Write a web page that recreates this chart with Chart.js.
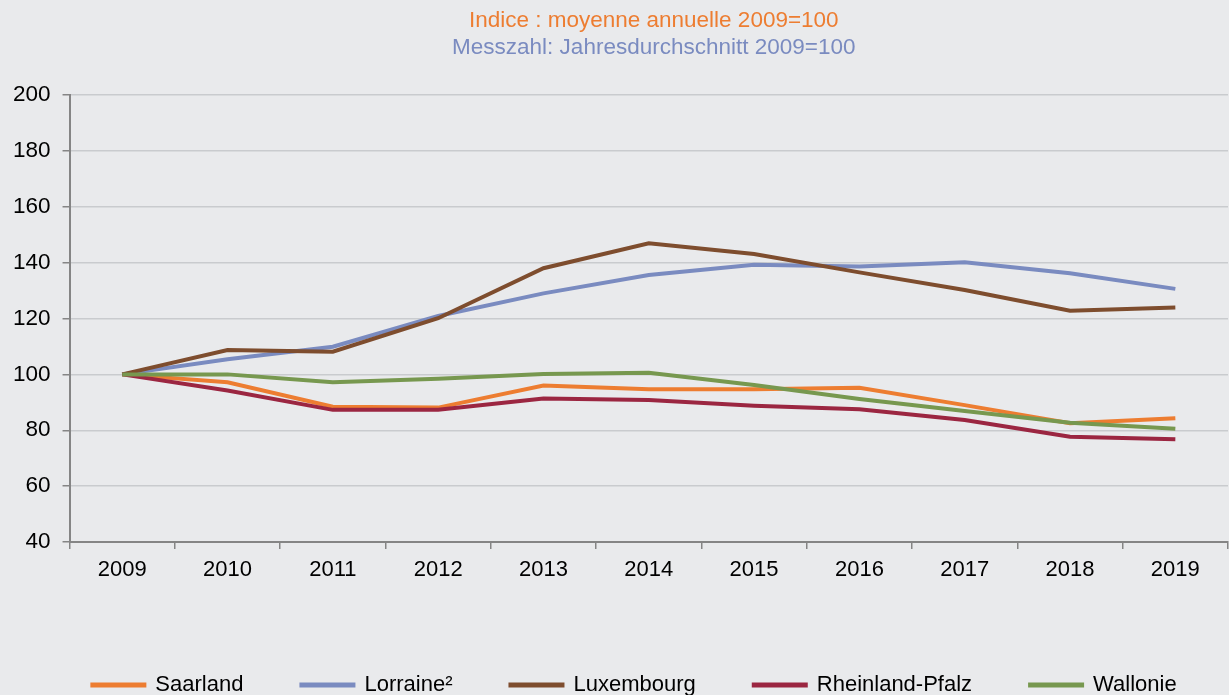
<!DOCTYPE html>
<html>
<head>
<meta charset="utf-8">
<script src="https://cdn.jsdelivr.net/npm/chart.js@4/dist/chart.umd.min.js"></script>
<style>
  html, body { margin:0; padding:0; background:#E9EAEC; overflow:hidden; }
  #wrap { position:relative; width:1229px; height:706px; }
</style>
</head>
<body>
<div id="wrap"><canvas id="c"></canvas></div>
<script>
const years = ['2009','2010','2011','2012','2013','2014','2015','2016','2017','2018','2019'];
const saarland   = [100, 97.2, 88.4, 88.1, 96.0, 94.7, 94.7, 95.2, 89.0, 82.5, 84.3];
const lorraine   = [100, 105.4, 109.9, 120.9, 129.0, 135.6, 139.2, 138.6, 140.1, 136.2, 130.6];
const luxembourg = [100, 108.7, 108.1, 120.1, 138.0, 146.9, 143.1, 136.5, 130.2, 122.8, 123.9];
const rheinland  = [100, 94.2, 87.3, 87.3, 91.4, 90.8, 88.8, 87.5, 83.7, 77.7, 76.8];
const wallonie   = [100, 100.0, 97.2, 98.4, 100.1, 100.6, 96.2, 91.2, 86.9, 82.7, 80.5];
const seriesNames = ['Saarland', 'Lorraine\u00B2', 'Luxembourg', 'Rheinland-Pfalz', 'Wallonie'];
const titleLines = ['Indice : moyenne annuelle 2009=100', 'Messzahl: Jahresdurchschnitt 2009=100'];
const yMin = 40, yMax = 200, yStep = 20;

const colors = ['#ED7D31', '#7A8BC0', '#7E4D2E', '#9B2641', '#77984F'];
const titleColors = ['#ED7D31', '#7A8BC0'];
const FONT = '"Liberation Sans", Arial, sans-serif';

function ds(label, data, color, order) {
  return {
    label, data,
    borderColor: color, backgroundColor: color,
    borderWidth: 4, pointRadius: 0, pointHoverRadius: 0,
    tension: 0, fill: false, order
  };
}

// Two-colour title centred over the plot region, as in the original
const twoTitles = {
  id: 'twoTitles',
  afterDraw(chart) {
    const c = chart.ctx;
    const a = chart.chartArea;
    const cx = (a.left + a.right) / 2 + 5;
    c.save();
    c.font = '22.5px ' + FONT;
    c.textAlign = 'center';
    c.textBaseline = 'middle';
    titleLines.forEach((t, i) => {
      c.fillStyle = titleColors[i];
      c.fillText(t, cx, 21 + i * 27);
    });
    c.restore();
  }
};

// Shift the legend row so it is centred under the plot like the original
const legendShift = {
  id: 'legendShift',
  afterLayout(chart) {
    if (chart.legend) { chart.legend.left += 20; chart.legend.right += 20; }
  }
};

new Chart(document.getElementById('c'), {
  type: 'line',
  plugins: [twoTitles, legendShift],
  data: {
    labels: years,
    datasets: [
      ds(seriesNames[0], saarland, colors[0], 4),
      ds(seriesNames[1], lorraine, colors[1], 3),
      ds(seriesNames[2], luxembourg, colors[2], 2),
      ds(seriesNames[3], rheinland, colors[3], 1),
      ds(seriesNames[4], wallonie, colors[4], 0)
    ]
  },
  options: {
    responsive: true,
    maintainAspectRatio: false,
    animation: false,
    layout: { padding: { left: 1, right: 1, top: 95, bottom: 0 } },
    plugins: {
      tooltip: { enabled: false },
      title: { display: false },
      legend: {
        position: 'bottom',
        labels: {
          color: '#000',
          font: { family: FONT, size: 22 },
          boxWidth: 52, boxHeight: 1,
          padding: 58,
          sort: (a, b) => a.datasetIndex - b.datasetIndex
        }
      }
    },
    scales: {
      x: {
        offset: true,
        grid: {
          offset: true,
          drawOnChartArea: true,
          color: (ctx) => ctx.index === years.length ? '#C9CBCE' : 'rgba(0,0,0,0)',
          tickColor: '#858585',
          tickLength: 7,
          lineWidth: 1.5
        },
        border: { color: '#858585', width: 2 },
        ticks: { color: '#000', font: { family: FONT, size: 22 }, padding: 8, maxRotation: 0 },
        afterFit: (s) => { s.height = 74; }
      },
      y: {
        min: yMin, max: yMax,
        grid: { color: '#C9CBCE', lineWidth: 1.5, tickColor: '#858585', tickLength: 7 },
        border: { color: '#858585', width: 2 },
        ticks: { stepSize: yStep, color: '#000', font: { family: FONT, size: 22.5 }, padding: 12 }
      }
    }
  }
});
</script>
</body>
</html>
